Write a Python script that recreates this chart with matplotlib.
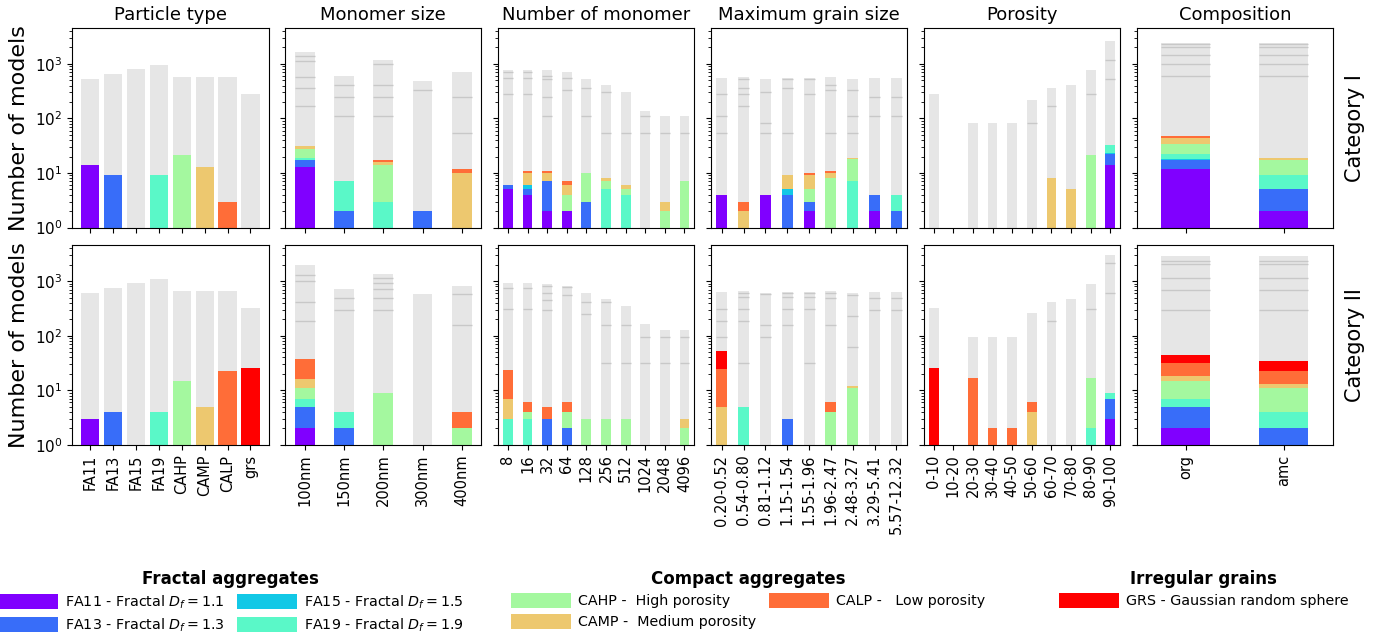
import numpy as np
import matplotlib
matplotlib.use("Agg")
import matplotlib.pyplot as plt
from matplotlib.patches import Patch

# type order: FA11, FA13, FA15, FA19, CAHP, CAMP, CALP, GRS
type_names = ['FA11', 'FA13', 'FA15', 'FA19', 'CAHP', 'CAMP', 'CALP', 'GRS']

# --- Particle type (one coloured count per bar) ---
ptype_labels = ['FA11', 'FA13', 'FA15', 'FA19', 'CAHP', 'CAMP', 'CALP', 'grs']
ptype_I = [14, 9, 0, 9, 21, 13, 3, 0]
ptype_I_total = [525, 657, 813, 962, 579, 579, 579, 281]
ptype_II = [3, 4, 0, 4, 15, 5, 23, 26]
ptype_II_total = [604, 746, 923, 1093, 657, 657, 657, 320]

# --- Monomer size ---
mono_labels = ['100nm', '150nm', '200nm', '300nm', '400nm']
mono_I = [[13, 4, 0, 2, 9, 3, 0, 0],
          [0, 2, 0, 5, 0, 0, 0, 0],
          [0, 0, 0, 3, 11, 2, 1, 0],
          [0, 2, 0, 0, 0, 0, 0, 0],
          [0, 0, 0, 0, 0, 10, 2, 0]]
mono_I_total = [1670, 604, 1190, 488, 715]
mono_I_lines = [[167, 358, 571, 1125, 1390], [109, 245, 407], [109, 245, 407, 991], [329], [55, 245]]
mono_II = [[2, 3, 0, 2, 4, 5, 21, 0],
           [0, 2, 0, 2, 0, 0, 0, 0],
           [0, 0, 0, 0, 9, 0, 0, 0],
           [0, 0, 0, 0, 0, 0, 0, 0],
           [0, 0, 0, 0, 2, 0, 2, 0]]
mono_II_total = [1980, 715, 1352, 579, 813]
mono_II_lines = [[190, 407, 991, 1277], [290, 482], [290, 482, 706, 910, 1125], [], [160, 571]]

# --- Number of monomer ---
nmono_labels = ['8', '16', '32', '64', '128', '256', '512', '1024', '2048', '4096']
nmono_I = [[5, 1, 0, 0, 0, 0, 0, 0],
           [4, 1, 1, 0, 0, 4, 1, 0],
           [2, 5, 0, 0, 0, 3, 1, 0],
           [2, 0, 0, 0, 2, 2, 1, 0],
           [0, 3, 0, 0, 7, 0, 0, 0],
           [0, 0, 0, 5, 2, 1, 0, 0],
           [0, 0, 0, 4, 1, 1, 0, 0],
           [0, 0, 0, 0, 0, 0, 0, 0],
           [0, 0, 0, 0, 2, 1, 0, 0],
           [0, 0, 0, 0, 7, 0, 0, 0]]
nmono_I_total = [778, 778, 778, 715, 532, 412, 306, 137, 111, 111]
nmono_I_lines = [[278, 548, 706], [278, 548, 706], [109, 245, 525, 596], [329, 548], [109, 358],
                 [55, 303], [55], [55, 109], [55], [55]]
nmono_II = [[0, 0, 0, 3, 0, 4, 17, 0],
            [0, 0, 0, 3, 1, 0, 2, 0],
            [0, 3, 0, 0, 0, 0, 2, 0],
            [0, 2, 0, 0, 2, 0, 2, 0],
            [0, 0, 0, 0, 3, 0, 0, 0],
            [0, 0, 0, 0, 3, 0, 0, 0],
            [0, 0, 0, 0, 3, 0, 0, 0],
            [0, 0, 0, 0, 0, 0, 0, 0],
            [0, 0, 0, 0, 0, 0, 0, 0],
            [0, 0, 0, 0, 2, 1, 0, 0]]
nmono_II_total = [923, 923, 884, 813, 604, 468, 348, 162, 126, 126]
nmono_II_lines = [[315, 736], [315, 736], [290, 443, 596, 802], [548, 769], [255, 407],
                  [32, 160, 407], [32, 160], [32, 96], [32, 96], [32, 96]]

# --- Maximum grain size ---
grain_labels = ['0.20-0.52', '0.54-0.80', '0.81-1.12', '1.15-1.54', '1.55-1.96',
                '1.96-2.47', '2.48-3.27', '3.29-5.41', '5.57-12.32']
grain_I = [[4, 0, 0, 0, 0, 0, 0, 0],
           [0, 0, 0, 0, 0, 2, 1, 0],
           [4, 0, 0, 0, 0, 0, 0, 0],
           [0, 4, 1, 0, 0, 4, 0, 0],
           [2, 1, 0, 0, 2, 4, 1, 0],
           [0, 0, 0, 0, 8, 2, 1, 0],
           [0, 0, 0, 7, 11, 1, 0, 0],
           [2, 2, 0, 0, 0, 0, 0, 0],
           [0, 2, 0, 2, 0, 0, 0, 0]]
grain_I_total = [555, 579, 532, 555, 555, 579, 532, 555, 555]
grain_I_lines = [[55, 109, 278], [167, 278, 358, 517], [55, 81, 303], [55, 358, 517], [278, 517],
                 [55, 329, 407], [55, 109, 329], [109, 245], [109, 245]]
grain_II = [[0, 0, 0, 0, 0, 5, 20, 27],
            [0, 0, 0, 5, 0, 0, 0, 0],
            [0, 0, 0, 0, 0, 0, 0, 0],
            [0, 3, 0, 0, 0, 0, 0, 0],
            [0, 0, 0, 0, 0, 0, 0, 0],
            [0, 0, 0, 0, 4, 0, 2, 0],
            [0, 0, 0, 0, 11, 1, 0, 0],
            [0, 0, 0, 0, 0, 0, 0, 0],
            [0, 0, 0, 0, 0, 0, 0, 0]]
grain_II_total = [630, 657, 604, 630, 630, 657, 604, 630, 630]
grain_II_lines = [[96, 190, 315], [32, 190, 315, 503, 596], [96, 160, 571], [160, 315, 503, 596],
                  [32, 315, 503, 596], [160, 482, 596], [63, 225, 548], [290, 482], [290, 482]]

# --- Porosity ---
poro_labels = ['0-10', '10-20', '20-30', '30-40', '40-50', '50-60', '60-70', '70-80', '80-90', '90-100']
poro_I = [[0, 0, 0, 0, 0, 0, 0, 0],
          [0, 0, 0, 0, 0, 0, 0, 0],
          [0, 0, 0, 0, 0, 0, 0, 0],
          [0, 0, 0, 0, 0, 0, 0, 0],
          [0, 0, 0, 0, 0, 0, 0, 0],
          [0, 0, 0, 0, 0, 0, 0, 0],
          [0, 0, 0, 0, 0, 8, 0, 0],
          [0, 0, 0, 0, 0, 5, 0, 0],
          [0, 0, 0, 0, 21, 0, 0, 0],
          [14, 8, 1, 9, 0, 0, 0, 0]]
poro_I_total = [281, 0, 82, 82, 82, 218, 363, 412, 778, 2663]
poro_I_lines = [[], [], [], [], [], [81], [167], [], [278], [525, 1175]]
poro_II = [[0, 0, 0, 0, 0, 0, 0, 26],
           [0, 0, 0, 0, 0, 0, 0, 0],
           [0, 0, 0, 0, 0, 0, 17, 0],
           [0, 0, 0, 0, 0, 0, 2, 0],
           [0, 0, 0, 0, 0, 0, 2, 0],
           [0, 0, 0, 0, 0, 4, 2, 0],
           [0, 0, 0, 0, 0, 0, 0, 0],
           [0, 0, 0, 0, 0, 0, 0, 0],
           [0, 0, 0, 2, 15, 0, 0, 0],
           [3, 4, 0, 2, 0, 0, 0, 0]]
poro_II_total = [320, 0, 94, 94, 94, 259, 412, 468, 884, 3027]
poro_II_lines = [[], [], [], [], [], [], [190], [], [315], [596, 2126]]

# --- Composition ---
comp_labels = ['org', 'amc']
comp_I = [[12, 5, 1, 4, 12, 10, 3, 0],
          [2, 3, 0, 4, 8, 2, 0, 0]]
comp_I_total = [2447, 2447]
comp_I_lines = [[596, 991, 1450, 2065, 2313], [596, 991, 1450, 2065, 2313]]
comp_II = [[2, 3, 0, 2, 8, 3, 13, 14],
           [0, 2, 0, 2, 7, 2, 10, 12]]
comp_II_total = [2900, 2900]
comp_II_lines = [[302, 677, 1125, 2040, 2313], [302, 677, 1125, 2040, 2313]]

titles = ['Particle type', 'Monomer size', 'Number of monomer', 'Maximum grain size', 'Porosity', 'Composition']

colors = plt.cm.rainbow(np.linspace(0, 1, 8))
gray = '#e6e6e6'
line_gray = '#c8c8c8'

panels = [
    (ptype_labels, np.diag(ptype_I), ptype_I_total, [[]] * 8,
     np.diag(ptype_II), ptype_II_total, [[]] * 8, 0.8),
    (mono_labels, mono_I, mono_I_total, mono_I_lines, mono_II, mono_II_total, mono_II_lines, 0.5),
    (nmono_labels, nmono_I, nmono_I_total, nmono_I_lines, nmono_II, nmono_II_total, nmono_II_lines, 0.5),
    (grain_labels, grain_I, grain_I_total, grain_I_lines, grain_II, grain_II_total, grain_II_lines, 0.5),
    (poro_labels, poro_I, poro_I_total, poro_I_lines, poro_II, poro_II_total, poro_II_lines, 0.5),
    (comp_labels, comp_I, comp_I_total, comp_I_lines, comp_II, comp_II_total, comp_II_lines, 0.5),
]


def draw_bars(ax, labels, counts, totals, lines, width):
    counts = np.asarray(counts, dtype=float)
    x = np.arange(len(labels))
    bottom = np.zeros(len(labels))
    for k in range(8):
        h = counts[:, k]
        ax.bar(x, h, width, bottom=bottom, color=colors[k], linewidth=0)
        bottom = bottom + h
    rest = np.maximum(np.asarray(totals, dtype=float) - bottom, 0)
    ax.bar(x, rest, width, bottom=bottom, color=gray, linewidth=0, zorder=1)
    for i, lv in enumerate(lines):
        if lv:
            ax.hlines(lv, x[i] - width / 2, x[i] + width / 2, color=line_gray, lw=1, zorder=2)
    ax.set_xticks(x)


fig, axes = plt.subplots(2, 6, figsize=(13.9, 6.41), dpi=100, sharey=True)
fig.subplots_adjust(left=0.052, right=0.959, top=0.956, bottom=0.306, wspace=0.085, hspace=0.09)

for j, (labels, c1, t1, l1, c2, t2, l2, w) in enumerate(panels):
    for r, (c, t, l) in enumerate([(c1, t1, l1), (c2, t2, l2)]):
        ax = axes[r, j]
        draw_bars(ax, labels, c, t, l, w)
        ax.set_yscale('log')
        ax.set_ylim(1, 4500)
        if j > 0:
            ax.set_xlim(-0.5, len(labels) - 0.5)
        if r == 0:
            ax.set_title(titles[j], fontsize=13)
            ax.set_xticklabels([])
        else:
            ax.set_xticklabels(labels, rotation=90, fontsize=10.5)
        ax.tick_params(axis='y', labelsize=11)

axes[0, 0].set_ylabel('Number of models', fontsize=16)
axes[1, 0].set_ylabel('Number of models', fontsize=16)
for r, name in enumerate(['Category I', 'Category II']):
    axes[r, 5].text(1.11, 0.5, name, transform=axes[r, 5].transAxes, rotation=90,
                    va='center', ha='center', fontsize=15)

# legends
leg_groups = [
    ('Fractal aggregates', [0, 1, 2, 3],
     [r'FA11 - Fractal $D_f=1.1$', r'FA13 - Fractal $D_f=1.3$',
      r'FA15 - Fractal $D_f=1.5$', r'FA19 - Fractal $D_f=1.9$'], 0.166),
    ('Compact aggregates', [4, 5, 6],
     ['CAHP -  High porosity', 'CAMP -  Medium porosity', 'CALP -   Low porosity'], 0.538),
    ('Irregular grains', [7], ['GRS - Gaussian random sphere'], 0.866),
]
for title, idx, texts, xc in leg_groups:
    handles = [Patch(facecolor=colors[k], label=t) for k, t in zip(idx, texts)]
    leg = fig.legend(handles=handles, loc='upper center', bbox_to_anchor=(xc, 0.127),
                     ncol=2, frameon=False, fontsize=10.3, title=title,
                     title_fontproperties={'weight': 'bold', 'size': 12},
                     handlelength=4.2, handleheight=1.2, handletextpad=0.5,
                     columnspacing=0.9, labelspacing=0.4, borderpad=0.2)

fig.savefig('out.png', dpi=100)
